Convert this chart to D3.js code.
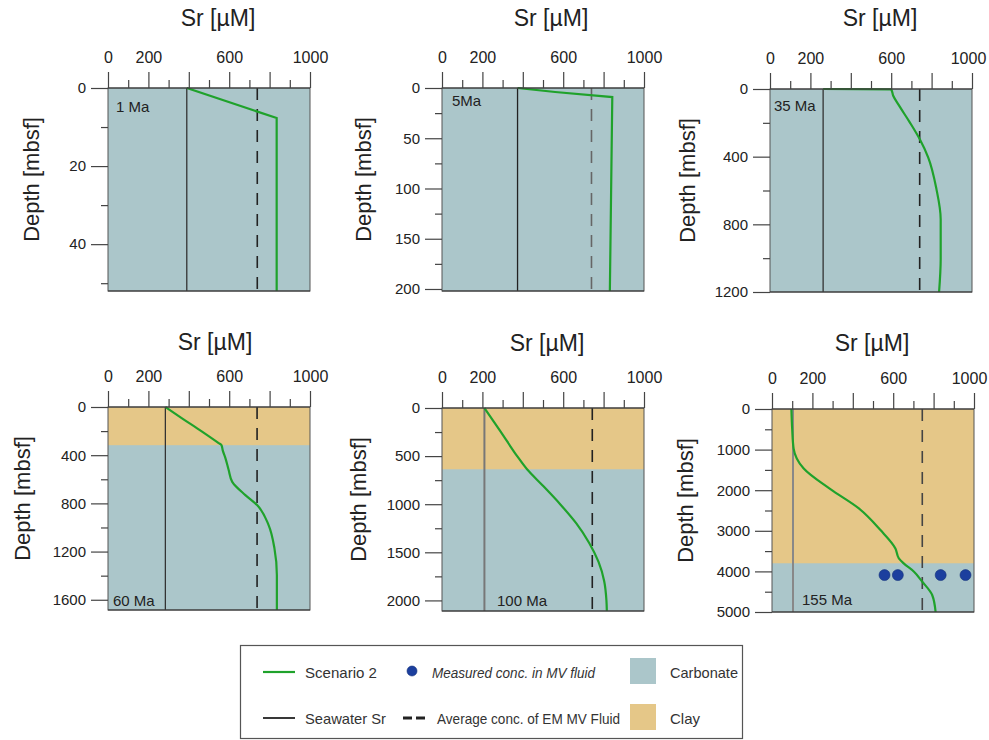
<!DOCTYPE html>
<html>
<head>
<meta charset="utf-8">
<script src="https://cdn.jsdelivr.net/npm/d3@7"></script>
<style>
  html, body { margin: 0; padding: 0; background: #ffffff; }
  svg { display: block; font-family: "Liberation Sans", Arial, Helvetica, sans-serif; }
</style>
</head>
<body>
<svg id="chart" width="989" height="740"></svg>
<script>
// ---------------- DATA ----------------
const panelAges = ["1 Ma", "5Ma", "35 Ma", "60 Ma", "100 Ma", "155 Ma"];
const depthMax = [52, 202, 1200, 1685, 2110, 5000];
const depthTickStep = [10, 25, 200, 200, 250, 500];
const seawaterSr = [390, 374, 263, 284, 210, 104];
const emFluidSr = [739, 740, 741, 738, 744, 744];
const clayBase = [0, 0, 0, 317, 637, 3800];   // depth of clay/carbonate boundary (0 = no clay)
const srTicks = [0, 200, 400, 600, 800, 1000];
const srTickLabels = ["0", "200", "", "600", "", "1000"];
const srMinorTicks = [100, 300, 500, 700, 900];

// Scenario 2 profiles: [depth (mbsf), Sr (µM)]
const scenario2_1Ma = [[0, 390], [7.7, 835], [52, 835]];
const scenario2_5Ma = [[0, 374], [4, 560], [9, 843], [202, 831]];
const scenario2_35Ma = [[0, 263], [2, 600], [40, 610], [100, 640], [197, 692], [296, 741], [404, 783], [592, 824], [770, 845], [1006, 845], [1200, 837]];
const scenario2_60Ma = [[0, 284], [100, 372], [200, 462], [300, 548], [317, 562], [360, 568], [428, 582], [521, 597], [621, 615], [731, 680], [814, 738], [980, 795], [1173, 824], [1394, 836], [1685, 836]];
const scenario2_100Ma = [[0, 210], [250, 292], [500, 372], [637, 421], [800, 496], [1000, 585], [1200, 665], [1400, 728], [1600, 775], [1800, 803], [2000, 814], [2110, 816]];
const scenario2_155Ma = [[0, 96], [500, 100], [974, 107], [1467, 157], [1975, 289], [2450, 430], [2983, 537], [3434, 611], [3680, 628], [3803, 652], [4008, 703], [4254, 744], [4582, 793], [5000, 810]];
const scenario2 = [scenario2_1Ma, scenario2_5Ma, scenario2_35Ma, scenario2_60Ma, scenario2_100Ma, scenario2_155Ma];

// Measured concentrations in MV fluid (155 Ma panel)
const measuredDepth = [4090, 4090, 4090, 4090];
const measuredSr = [557, 623, 835, 958];

// ---------------- LAYOUT / STYLE ----------------
const layout = [
  {x: 108, y: 88,  ageDx: 8,  ageDy: 24,  labDx: 77, titleDx: 9, titleDy: 62, lastDx: 0},
  {x: 442, y: 88,  ageDx: 10, ageDy: 18,  labDx: 79, titleDx: 8, titleDy: 62, lastDx: 0},
  {x: 770, y: 89,  ageDx: 4,  ageDy: 22,  labDx: 83, titleDx: 9, titleDy: 63, lastDx: -4},
  {x: 108, y: 407, ageDx: 5,  ageDy: 199, labDx: 86, titleDx: 6, titleDy: 57, lastDx: 0},
  {x: 442, y: 408, ageDx: 55, ageDy: 198, labDx: 84, titleDx: 4, titleDy: 57, lastDx: 0},
  {x: 772, y: 409, ageDx: 30, ageDy: 196, labDx: 87, titleDx: -1, titleDy: 58, lastDx: -5}
];
const PW = 202, PH = 203;
const carbonateColor = "#abc6ca";
const clayColor = "#e5c788";
const greenColor = "#1fa22b";
const seawaterColors = ["#333", "#222", "#333", "#333", "#777", "#888"];
const emColors = ["#222", "#666", "#222", "#222", "#222", "#444"];

const svg = d3.select("#chart");

panelAges.forEach((age, i) => {
  const L = layout[i];
  const g = svg.append("g").attr("transform", `translate(${L.x},${L.y})`);
  const x = d3.scaleLinear().domain([0, 1000]).range([0, PW]);
  const y = d3.scaleLinear().domain([0, depthMax[i]]).range([0, PH]);

  // background: carbonate then clay
  g.append("rect").attr("x", 0).attr("y", 0).attr("width", PW).attr("height", PH)
    .attr("fill", carbonateColor);
  if (clayBase[i] > 0) {
    g.append("rect").attr("x", 0).attr("y", 0).attr("width", PW).attr("height", y(clayBase[i]))
      .attr("fill", clayColor);
  }

  const clipId = "clip" + i;
  g.append("clipPath").attr("id", clipId).append("rect")
    .attr("x", 0).attr("y", -1).attr("width", PW).attr("height", PH + 2);

  // seawater line
  g.append("line")
    .attr("x1", x(seawaterSr[i])).attr("x2", x(seawaterSr[i]))
    .attr("y1", y(0)).attr("y2", y(depthMax[i]))
    .attr("stroke", seawaterColors[i]).attr("stroke-width", i >= 4 ? 2 : 1.3);

  // average EM MV fluid (dashed)
  g.append("line")
    .attr("x1", x(emFluidSr[i])).attr("x2", x(emFluidSr[i]))
    .attr("y1", y(0)).attr("y2", y(depthMax[i]))
    .attr("stroke", emColors[i]).attr("stroke-width", 1.6)
    .attr("stroke-dasharray", "12,9");

  // scenario 2 curve
  const line = d3.line()
    .x(d => x(d[1])).y(d => y(d[0]))
    .curve(i <= 1 ? d3.curveLinear : d3.curveMonotoneY);
  g.append("path").datum(scenario2[i])
    .attr("d", line)
    .attr("fill", "none").attr("stroke", greenColor).attr("stroke-width", 2.2)
    .attr("clip-path", `url(#${clipId})`);

  // measured points
  if (i === 5) {
    g.selectAll("circle.meas").data(measuredSr).enter().append("circle")
      .attr("class", "meas")
      .attr("cx", d => x(d)).attr("cy", (d, k) => y(measuredDepth[k]))
      .attr("r", 5.5).attr("fill", "#1c3f9e").attr("stroke", "#13307a").attr("stroke-width", 0.6);
  }

  // frame
  g.append("rect").attr("x", 0).attr("y", 0).attr("width", PW).attr("height", PH)
    .attr("fill", "none").attr("stroke", "#555").attr("stroke-width", 1);
  g.append("line").attr("x1", 0).attr("x2", PW).attr("y1", 0).attr("y2", 0)
    .attr("stroke", "#333").attr("stroke-width", 1.2);
  g.append("line").attr("x1", 0).attr("x2", PW).attr("y1", PH).attr("y2", PH)
    .attr("stroke", "#333").attr("stroke-width", 1.2);

  // top x axis (major + minor)
  const xMajor = g.append("g").call(
    d3.axisTop(x).tickValues(srTicks).tickSize(16).tickPadding(9)
      .tickFormat((d, k) => srTickLabels[k]));
  const xMinor = g.append("g").call(
    d3.axisTop(x).tickValues(srMinorTicks).tickSize(8).tickFormat(""));

  // left y axis (major + minor)
  const dTicks = d3.range(0, depthMax[i] + 1e-9, depthTickStep[i]);
  const majors = dTicks.filter((d, k) => k % 2 === 0);
  const minors = dTicks.filter((d, k) => k % 2 === 1);
  const yMajor = g.append("g").call(
    d3.axisLeft(y).tickValues(majors).tickSize(17).tickPadding(5).tickFormat(d3.format("d")));
  const yMinor = g.append("g").call(
    d3.axisLeft(y).tickValues(minors).tickSize(7).tickFormat(""));

  [xMajor, xMinor, yMajor, yMinor].forEach(a => {
    a.select(".domain").remove();
    a.selectAll(".tick line").attr("stroke", "#444").attr("stroke-width", 1.2);
    a.selectAll(".tick text").attr("fill", "#222")
      .attr("font-family", "'Liberation Sans', Arial, sans-serif");
  });
  xMajor.selectAll(".tick text").attr("font-size", 16);
  xMajor.selectAll(".tick text").filter(d => d === 1000).attr("dx", L.lastDx);
  yMajor.selectAll(".tick text").attr("font-size", 15);

  // axis titles
  g.append("text")
    .attr("x", PW / 2 + L.titleDx).attr("y", -L.titleDy)
    .attr("text-anchor", "middle").attr("font-size", 23).attr("fill", "#222")
    .text("Sr [µM]");
  g.append("text")
    .attr("transform", `translate(${-L.labDx},${PH / 2 - 10}) rotate(-90)`)
    .attr("text-anchor", "middle").attr("dominant-baseline", "central")
    .attr("font-size", 22).attr("fill", "#222")
    .text("Depth [mbsf]");

  // age label
  g.append("text")
    .attr("x", L.ageDx).attr("y", L.ageDy)
    .attr("font-size", 15).attr("fill", "#222")
    .text(age);
});

// ---------------- LEGEND ----------------
const lg = svg.append("g");
lg.append("rect").attr("x", 240.5).attr("y", 645.5).attr("width", 502).attr("height", 93)
  .attr("fill", "#fff").attr("stroke", "#555").attr("stroke-width", 1.2);

const legendFont = 15;
const row1 = 672, row2 = 718;
function legendText(xPos, yPos, str, len, italic) {
  const t = lg.append("text").attr("x", xPos).attr("y", yPos).attr("dominant-baseline", "central")
    .attr("font-size", legendFont).attr("fill", "#333")
    .attr("textLength", len).attr("lengthAdjust", "spacingAndGlyphs")
    .text(str);
  if (italic) t.attr("font-style", "italic");
  return t;
}
// Scenario 2
lg.append("line").attr("x1", 263).attr("x2", 295).attr("y1", row1).attr("y2", row1)
  .attr("stroke", greenColor).attr("stroke-width", 2.2);
legendText(305, row1, "Scenario 2", 72, false);
// Seawater Sr
lg.append("line").attr("x1", 263).attr("x2", 295).attr("y1", row2).attr("y2", row2)
  .attr("stroke", "#222").attr("stroke-width", 1.8);
legendText(305, row2, "Seawater Sr", 81, false);
// Measured
lg.append("circle").attr("cx", 412).attr("cy", row1 - 1).attr("r", 5)
  .attr("fill", "#1c3f9e").attr("stroke", "#13307a").attr("stroke-width", 0.6);
legendText(432, row1, "Measured conc. in MV fluid", 163, true);
// Average EM
lg.append("line").attr("x1", 403).attr("x2", 425).attr("y1", row2).attr("y2", row2)
  .attr("stroke", "#222").attr("stroke-width", 2.8).attr("stroke-dasharray", "9,4");
legendText(437, row2, "Average conc. of EM MV Fluid", 183, false);
// Carbonate / Clay
lg.append("rect").attr("x", 630).attr("y", 658).attr("width", 26).attr("height", 26)
  .attr("fill", carbonateColor);
legendText(670, row1, "Carbonate", 68, false);
lg.append("rect").attr("x", 630).attr("y", 704).attr("width", 26).attr("height", 26)
  .attr("fill", clayColor);
legendText(670, row2, "Clay", 30, false);
</script>
</body>
</html>
